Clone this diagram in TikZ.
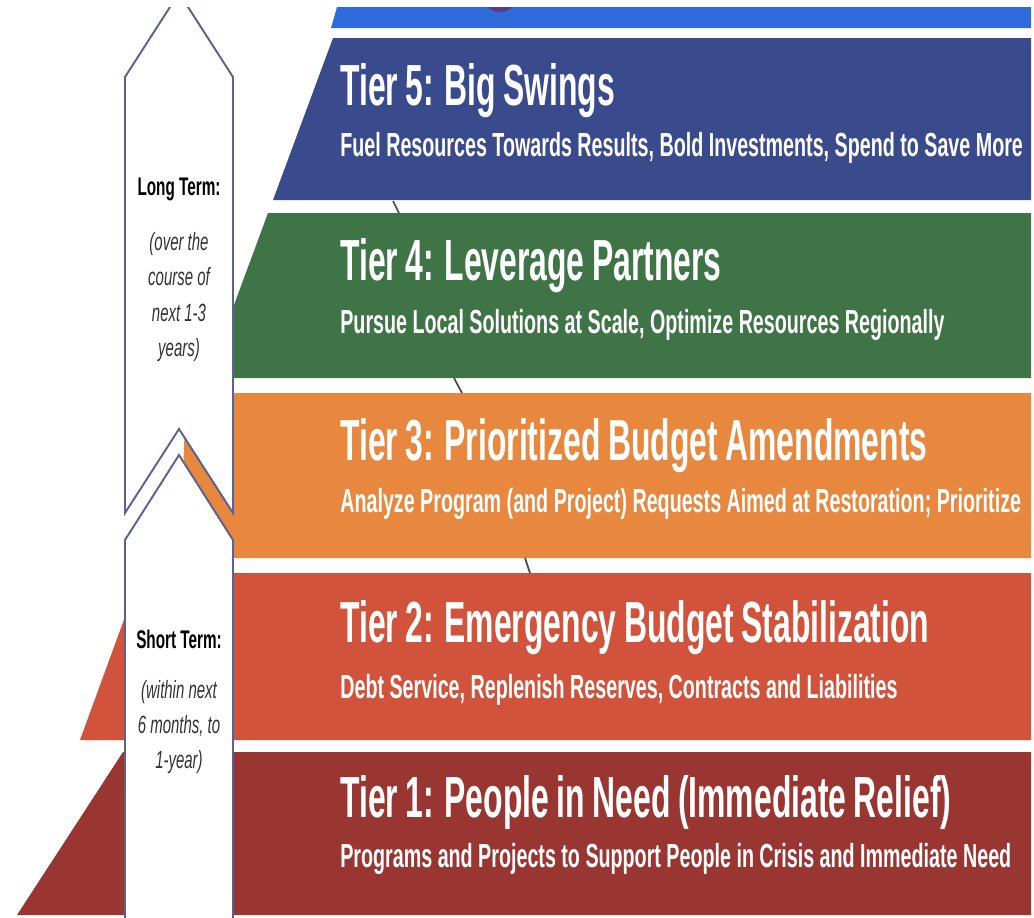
\documentclass[tikz,border=0pt]{standalone}
\usepackage{fontspec}
\setmainfont{Liberation Sans}
\newfontfamily\tierfont[FakeStretch=0.55,WordSpace=0.85]{Liberation Sans}
\newfontfamily\descfont[FakeStretch=0.59]{Liberation Sans}
\newfontfamily\termfont[FakeStretch=0.6]{Liberation Sans}
\definecolor{stripblue}{HTML}{2F6BDA}
\definecolor{tierfive}{HTML}{3A4B8D}
\definecolor{tierfour}{HTML}{3E7446}
\definecolor{tierthree}{HTML}{E8883F}
\definecolor{tiertwo}{HTML}{D1533B}
\definecolor{tierone}{HTML}{993632}
\definecolor{arrowline}{HTML}{5A6390}
\definecolor{blobviolet}{HTML}{5B3A8C}

\begin{document}
\begin{tikzpicture}[x=0.02cm,y=-0.02cm,
  tier/.style={anchor=base west,inner sep=0,text=white,font=\tierfont\bfseries\fontsize{33}{36}\selectfont},
  desc/.style={anchor=base west,inner sep=0,text=white,font=\descfont\bfseries\fontsize{19}{22}\selectfont},
  term/.style={anchor=base,inner sep=0,text=black,font=\termfont\bfseries\fontsize{14.5}{16}\selectfont},
  span/.style={align=center,inner sep=0,text=black!80,font=\termfont\itshape\fontsize{14.2}{20}\selectfont},
  arrowbox/.style={draw=arrowline,fill=white,line width=1.1pt,line join=miter},
  tick/.style={draw=black!70,line width=1pt}]
\useasboundingbox (0,0) rectangle (1034,917);

\begin{scope}
\clip (0,7) rectangle (1034,917);
% tier bands
\fill[stripblue] (337,7) -- (1031,7) -- (1031,28) -- (331,28) -- cycle;
\fill[blobviolet] (500,4) ellipse [x radius=13, y radius=8];
\fill[tierfive] (333,38) -- (1031,38) -- (1031,200) -- (273,200) -- cycle;
\fill[tierfour] (268,213) -- (1031,213) -- (1031,378) -- (207,378) -- cycle;
\fill[tierthree] (186,393) -- (1031,393) -- (1031,558) -- (180,558) -- cycle;
\fill[tiertwo] (141,573) -- (1031,573) -- (1031,740) -- (80,740) -- cycle;
\fill[tierone] (123,752) -- (1031,752) -- (1031,915) -- (17,915) -- cycle;
\draw[tick] (393,201) -- (399,213);
\draw[tick] (454,378) -- (462,393);
\draw[tick] (525,558) -- (530,573);
% time arrows
\draw[arrowbox] (125,77) -- (179,-7) -- (233,77) -- (233,513) -- (179,429) -- (125,513) -- cycle;
\draw[arrowbox] (125,540) -- (179,455) -- (233,540) -- (233,930) -- (125,930) -- cycle;
\end{scope}

\node at (340,105) [tier] (t5title) {Tier 5: Big Swings};
\node at (340,156) [desc] (t5desc) {Fuel Resources Towards Results, Bold Investments, Spend to Save More};
\node at (340,280) [tier] (t4title) {Tier 4: Leverage Partners};
\node at (340,333) [desc] (t4desc) {Pursue Local Solutions at Scale, Optimize Resources Regionally};
\node at (340,460) [tier] (t3title) {Tier 3: Prioritized Budget Amendments};
\node at (340,512) [desc] (t3desc) {Analyze Program (and Project) Requests Aimed at Restoration; Prioritize};
\node at (340,642) [tier] (t2title) {Tier 2: Emergency Budget Stabilization};
\node at (340,698) [desc] (t2desc) {Debt Service, Replenish Reserves, Contracts and Liabilities};
\node at (340,817) [tier] (t1title) {Tier 1: People in Need (Immediate Relief)};
\node at (340,867) [desc] (t1desc) {Programs and Projects to Support People in Crisis and Immediate Need};

\node at (179,195) [term] (longterm) {Long Term:};
\node at (179,297) [span] (longspan) {(over the\\course of\\next 1-3\\years)};
\node at (179,648) [term] (shortterm) {Short Term:};
\node at (179,727) [span] (shortspan) {(within next\\6 months, to\\1-year)};
\end{tikzpicture}
\end{document}
